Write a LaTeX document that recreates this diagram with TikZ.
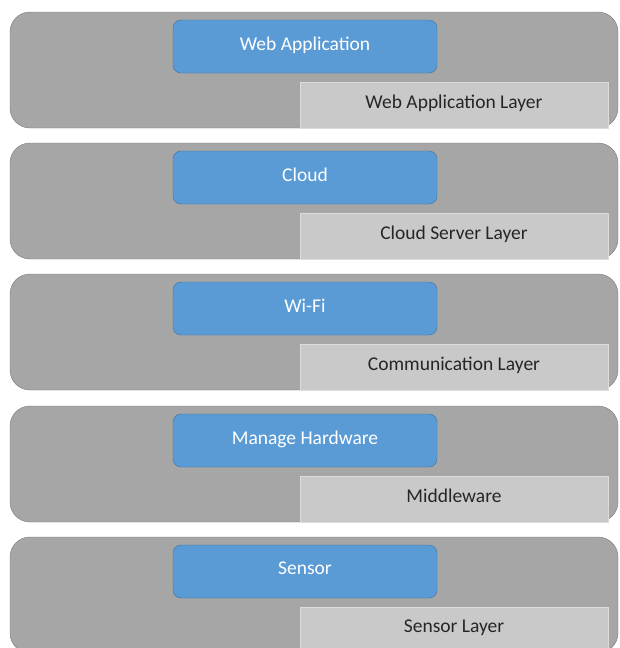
\documentclass[tikz,border=0pt]{standalone}
\usepackage{fontspec}
\setmainfont{Carlito}
\usetikzlibrary{positioning}

\definecolor{bandgray}{HTML}{A6A6A6}
\definecolor{bandline}{HTML}{7A7A7A}
\definecolor{boxblue}{HTML}{5B9BD5}
\definecolor{boxline}{HTML}{41719C}
\definecolor{tabgray}{HTML}{C9C9C9}
\definecolor{tabline}{HTML}{DCDCDC}

\begin{document}
\begin{tikzpicture}[x=1pt, y=-1pt, every node/.style={font=\fontsize{19.5}{22}\selectfont},
  band/.style={draw=bandline, fill=bandgray, rounded corners=20pt, minimum width=608pt, minimum height=116pt, inner sep=0pt},
  func/.style={draw=boxline, fill=boxblue, rounded corners=8pt, minimum width=264pt, minimum height=53pt, text=white, inner sep=0pt},
  layertab/.style={draw=tabline, fill=tabgray, minimum width=308pt, minimum height=46pt, text=black!85, inner sep=0pt}]
  \useasboundingbox (0,0) rectangle (619,648);

  % Web application layer
  \node[band] (B1) at (314,70) {};
  \node[func, below=8pt of B1.north, xshift=-9pt] (F1) {\raisebox{6pt}{Web Application}};
  \node[layertab, above left=0pt and 10pt of B1.south east] (L1) {\raisebox{7pt}{Web Application Layer}};

  % Cloud server layer
  \node[band] (B2) at (314,201) {};
  \node[func, below=8pt of B2.north, xshift=-9pt] (F2) {\raisebox{6pt}{Cloud}};
  \node[layertab, above left=0pt and 10pt of B2.south east] (L2) {\raisebox{7pt}{Cloud Server Layer}};

  % Communication layer
  \node[band] (B3) at (314,332) {};
  \node[func, below=8pt of B3.north, xshift=-9pt] (F3) {\raisebox{6pt}{Wi-Fi}};
  \node[layertab, above left=0pt and 10pt of B3.south east] (L3) {\raisebox{7pt}{Communication Layer}};

  % Middleware
  \node[band] (B4) at (314,464) {};
  \node[func, below=8pt of B4.north, xshift=-9pt] (F4) {\raisebox{6pt}{Manage Hardware}};
  \node[layertab, above left=0pt and 10pt of B4.south east] (L4) {\raisebox{7pt}{Middleware}};

  % Sensor layer
  \node[band] (B5) at (314,595) {};
  \node[func, below=8pt of B5.north, xshift=-9pt] (F5) {\raisebox{6pt}{Sensor}};
  \node[layertab, above left=0pt and 10pt of B5.south east] (L5) {\raisebox{7pt}{Sensor Layer}};
\end{tikzpicture}
\end{document}
